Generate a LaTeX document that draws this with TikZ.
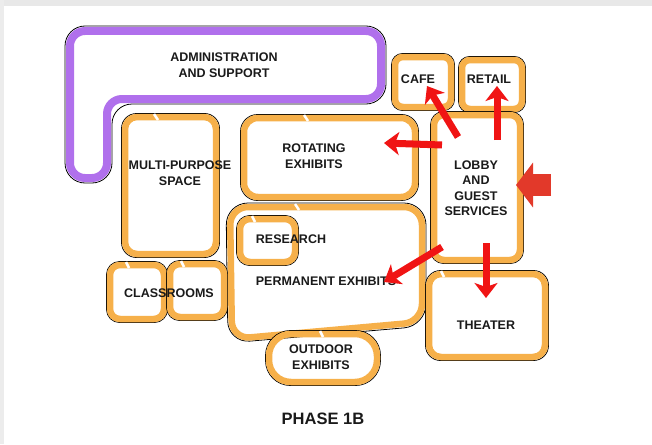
\documentclass[tikz,border=0pt]{standalone}
\usepackage{fontspec}
\setmainfont{Liberation Sans}
\usetikzlibrary{arrows.meta}
\definecolor{roomorange}{HTML}{F6B04A}
\definecolor{adminpurple}{HTML}{B070EC}
\definecolor{flowred}{HTML}{F01414}
\definecolor{entryred}{HTML}{E2392A}
\definecolor{labelgray}{HTML}{1A1A1A}
\def\room[#1](#2,#3)(#4,#5){\draw[line width=0.8pt, rounded corners=#1+3] (#2-3.5, #3-3.5) rectangle (#4+3.5, #5+3.5);
	\draw[roomorange, line width=6.5pt, rounded corners=#1] (#2, #3) rectangle (#4, #5);}
\tikzset{
	lbl/.style={text=labelgray, align=center, font=\fontsize{12.5}{15.5}\selectfont\bfseries},
	flow/.style={flowred, line width=7pt, -{Stealth[width=23pt, length=15pt, inset=4pt]}},
	door/.style={white, line width=2.5pt}
}

\begin{document}
\begin{tikzpicture}[x=1pt, y=-1pt]
			%%%%% START %%%%%
			
			\useasboundingbox (0, 0) rectangle (652, 444);
			\fill[white] (0, 0) rectangle (652, 444);
			\fill[gray!18] (0, 0) rectangle (652, 6);
			\fill[gray!15] (0, 0) rectangle (4, 444);
			
			\draw[line width=0.8pt, rounded corners=20] (200, 104) -- (386, 104) -- (386, 26) -- (65, 26) -- (65, 183) -- (112, 183) -- (112, 104) -- cycle;
			\draw[adminpurple, line width=8pt, rounded corners=15] (200, 99) -- (381, 99) -- (381, 31) -- (70, 31) -- (70, 178) -- (107, 178) -- (107, 99) -- cycle;
			
			\room[12](125, 117)(216, 254);
			\room[14](244, 118)(415, 197);
			\room[8](395, 57)(451, 107);
			\room[8](462, 60)(522, 109);
			\room[10](434, 115)(520, 260);
			
			\draw[line width=0.8pt, rounded corners=22] (228, 343) -- (226, 203) -- (426, 203) -- (426, 326) -- cycle;
			\draw[roomorange, line width=6.5pt, rounded corners=18] (232, 339) -- (230, 207) -- (422, 207) -- (422, 322) -- cycle;
			
			\room[10](240, 219)(295, 262);
			\room[10](110, 265)(164, 319);
			\room[10](170, 264)(224, 317);
			\room[22](269, 334)(377, 382);
			\room[12](429, 274)(545, 357);
			
			\draw[door] (154, 114) -- (158, 120);
			\draw[door] (304, 115) -- (308, 121);
			\draw[door] (252, 216) -- (255, 222);
			\draw[door] (295, 204) -- (299, 210);
			\draw[door] (126, 262) -- (129, 268);
			\draw[door] (181, 261) -- (184, 267);
			\draw[door] (320, 331) -- (323, 337);
			\draw[door] (441, 271) -- (444, 277);
			
			\node[lbl] (admin) at (224, 65) {ADMINISTRATION\\AND SUPPORT};
			\node[lbl] (multi) at (180, 173) {MULTI-PURPOSE\\SPACE};
			\node[lbl] (rotating) at (314, 156) {ROTATING\\EXHIBITS};
			\node[lbl] (cafe) at (418, 79) {CAFE};
			\node[lbl] (retail) at (489, 79) {RETAIL};
			\node[lbl] (lobby) at (476, 188) {LOBBY\\AND\\GUEST\\SERVICES};
			\node[lbl] (research) at (291, 239) {RESEARCH};
			\node[lbl] (permanent) at (326, 281) {PERMANENT EXHIBITS};
			\node[lbl] (classrooms) at (169, 293) {CLASSROOMS};
			\node[lbl] (theater) at (486, 325) {THEATER};
			\node[lbl] (outdoor) at (321, 357) {OUTDOOR\\EXHIBITS};
			\node[lbl, font=\fontsize{16.5}{19}\selectfont\bfseries] (phase) at (323, 419) {PHASE 1B};
			
			\coordinate (cafeFrom) at (458, 137);
			\coordinate (cafeTo) at (427, 86);
			\coordinate (retailFrom) at (497, 140);
			\coordinate (retailTo) at (497, 86);
			\coordinate (rotatingFrom) at (442, 145);
			\coordinate (rotatingTo) at (384, 143);
			\coordinate (permanentFrom) at (442, 247);
			\coordinate (permanentTo) at (384, 282);
			\coordinate (theaterFrom) at (486, 243);
			\coordinate (theaterTo) at (486, 298);
			\coordinate (entryFrom) at (551, 185);
			\coordinate (entryTo) at (516, 185);
			
			\draw[flow] (cafeFrom) -- (cafeTo);
			\draw[flow] (retailFrom) -- (retailTo);
			\draw[flow] (rotatingFrom) -- (rotatingTo);
			\draw[flow] (permanentFrom) -- (permanentTo);
			\draw[flow] (theaterFrom) -- (theaterTo);
			\draw[entryred, line width=22pt, -{Triangle[width=44pt, length=17pt]}] (entryFrom) -- (entryTo);
			
			%%%%% END %%%%%
		\end{tikzpicture}
\end{document}
